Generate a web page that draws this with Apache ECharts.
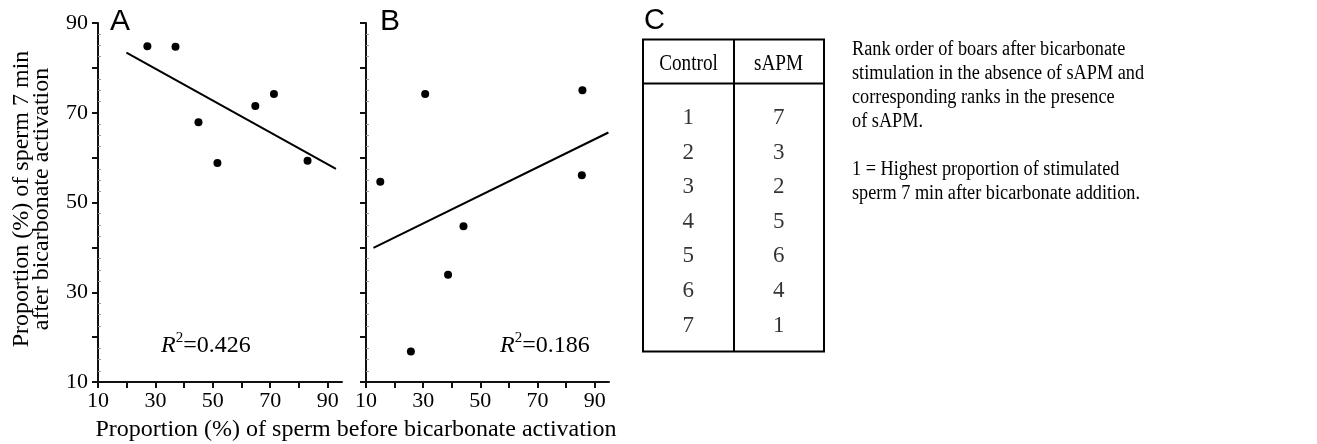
<!DOCTYPE html>
<html>
<head>
<meta charset="utf-8">
<script src="https://cdn.jsdelivr.net/npm/echarts@6/dist/echarts.min.js"></script>
<style>
html, body { margin: 0; padding: 0; background: #fff; }
#chart { width: 1317px; height: 444px; }
</style>
</head>
<body>
<div id="chart"></div>
<script>
// data
var pointsA = [[27.2, 84.8], [37, 84.7], [45, 67.9], [51.6, 58.8], [64.8, 71.5], [71.3, 74.2], [83, 59.3]];
var pointsB = [[15, 54.6], [30.7, 74.2], [25.7, 16.8], [38.7, 33.9], [44.1, 44.7], [85.7, 75], [85.5, 56.1]];
var fitA = [[19.9, 83.4], [92.9, 57.5]];
var fitB = [[12.6, 39.9], [94.8, 65.6]];
var r2Values = ['0.426', '0.186'];
var xTicks = [10, 20, 30, 40, 50, 60, 70, 80, 90];
var xTickLabels = [10, 30, 50, 70, 90];
var yTickLabels = [10, 30, 50, 70, 90];
var tableHeader = ['Control', 'sAPM'];
var controlRank = [1, 2, 3, 4, 5, 6, 7];
var sapmRank = [7, 3, 2, 5, 6, 4, 1];
var noteLines = [
    'Rank order of boars after bicarbonate',
    'stimulation in the absence of sAPM and',
    'corresponding ranks in the presence',
    'of sAPM.',
    '',
    '1 = Highest proportion of stimulated',
    'sperm 7 min after bicarbonate addition.'
];

var serif = '"Liberation Serif", "Times New Roman", serif';
var sans = '"Liberation Sans", Arial, sans-serif';
var ink = '#111';

function makeX(idx) {
    return {
        type: 'value',
        gridIndex: idx,
        min: 10,
        max: 95,
        axisLine: { show: true, onZero: false, lineStyle: { color: ink, width: 2 } },
        axisTick: { show: true, customValues: xTicks, length: 6, lineStyle: { color: ink, width: 2 } },
        axisLabel: { customValues: xTickLabels, color: '#000', fontFamily: serif, fontSize: 22, margin: 8 },
        splitLine: { show: false }
    };
}

function makeY(idx, showLabels) {
    return {
        type: 'value',
        gridIndex: idx,
        min: 10,
        max: 90,
        interval: 10,
        axisLine: { show: true, onZero: false, lineStyle: { color: ink, width: 2 } },
        axisTick: { show: true, length: 6, lineStyle: { color: ink, width: 2 } },
        axisLabel: { show: showLabels, customValues: yTickLabels, color: '#000', fontFamily: serif, fontSize: 22, margin: 10 },
        splitLine: { show: false }
    };
}

// faint minor ticks pointing into the plot (second left axis, ticks inside, major ticks invisible)
function makeMinorY(idx) {
    return {
        type: 'value',
        gridIndex: idx,
        position: 'left',
        min: 10,
        max: 90,
        interval: 10,
        axisLine: { show: false },
        axisTick: { show: true, inside: true, length: 1, lineStyle: { opacity: 0 } },
        minorTick: { show: true, splitNumber: 4, length: 3, lineStyle: { color: '#999', width: 1 } },
        axisLabel: { show: false },
        splitLine: { show: false }
    };
}

var tableData = [];
controlRank.forEach(function(v, i) {
    tableData.push([0, i + 1, v]);
    tableData.push([1, i + 1, sapmRank[i]]);
});

var chart = echarts.init(document.getElementById('chart'));

var graphics = [
    { type: 'text', x: 110, y: 22, style: { text: 'A', font: '30px ' + sans, fill: '#000', verticalAlign: 'middle' } },
    { type: 'text', x: 380, y: 22, style: { text: 'B', font: '30px ' + sans, fill: '#000', verticalAlign: 'middle' } },
    { type: 'text', x: 644, y: 21, style: { text: 'C', font: '29px ' + sans, fill: '#000', verticalAlign: 'middle' } },
    {
        type: 'text', x: 32, y: 199, rotation: Math.PI / 2,
        style: {
            text: 'Proportion (%) of sperm 7 min\nafter bicarbonate activation',
            font: '24px ' + serif, fill: '#000', align: 'center', verticalAlign: 'middle', lineHeight: 20
        }
    },
    {
        type: 'text', x: 356, y: 430,
        style: {
            text: 'Proportion (%) of sperm before bicarbonate activation',
            font: '24px ' + serif, fill: '#000', align: 'center', verticalAlign: 'middle'
        }
    },
    // table frame
    { type: 'rect', shape: { x: 643, y: 39.5, width: 181, height: 312 }, style: { fill: 'none', stroke: '#000', lineWidth: 2 } },
    { type: 'line', shape: { x1: 734, y1: 39.5, x2: 734, y2: 351.5 }, style: { stroke: '#000', lineWidth: 2 } },
    { type: 'line', shape: { x1: 643, y1: 83.5, x2: 824, y2: 83.5 }, style: { stroke: '#000', lineWidth: 2 } },
    {
        type: 'text', x: 852, y: 37.5, scaleX: 0.913,
        style: { text: noteLines.join('\n'), font: '20px ' + serif, fill: '#000', lineHeight: 24 }
    }
];

// table header, condensed like the source
[688.5, 778.5].forEach(function(cx, i) {
    graphics.push({
        type: 'text', x: cx, y: 64, scaleX: 0.8,
        style: { text: tableHeader[i], font: '24px ' + serif, fill: '#000', align: 'center', verticalAlign: 'middle' }
    });
});

[[161, r2Values[0]], [500, r2Values[1]]].forEach(function(r) {
    graphics.push({
        type: 'text', x: r[0], y: 346,
        style: {
            text: '{i|R}{s|2}{n|=' + r[1] + '}',
            verticalAlign: 'middle',
            rich: {
                i: { fontFamily: serif, fontStyle: 'italic', fontSize: 24, fill: '#000' },
                s: { fontFamily: serif, fontSize: 15, fill: '#000', verticalAlign: 'top', padding: [-3, 0, 0, 0] },
                n: { fontFamily: serif, fontSize: 24, fill: '#000' }
            }
        }
    });
});

var option = {
    backgroundColor: '#fff',
    animation: false,
    grid: [
        { left: 98, top: 23, width: 244, height: 359 },
        { left: 366, top: 23, width: 243, height: 359 },
        { left: 643, top: 83.5, width: 181, height: 268 }
    ],
    xAxis: [
        makeX(0),
        makeX(1),
        { type: 'category', gridIndex: 2, data: tableHeader, show: false }
    ],
    yAxis: [
        makeY(0, true),
        makeY(1, false),
        makeMinorY(0),
        makeMinorY(1),
        { type: 'value', gridIndex: 2, min: 0, max: 7.75, inverse: true, show: false }
    ],
    series: [
        {
            type: 'scatter', xAxisIndex: 0, yAxisIndex: 0, data: pointsA,
            symbolSize: 8, itemStyle: { color: '#000', opacity: 1 }
        },
        {
            type: 'line', xAxisIndex: 0, yAxisIndex: 0, data: fitA,
            showSymbol: false, lineStyle: { color: '#000', width: 2 }
        },
        {
            type: 'scatter', xAxisIndex: 1, yAxisIndex: 1, data: pointsB,
            symbolSize: 8, itemStyle: { color: '#000', opacity: 1 }
        },
        {
            type: 'line', xAxisIndex: 1, yAxisIndex: 1, data: fitB,
            showSymbol: false, lineStyle: { color: '#000', width: 2 }
        },
        {
            type: 'scatter', xAxisIndex: 2, yAxisIndex: 4, data: tableData,
            symbolSize: 0,
            label: {
                show: true, position: 'inside', color: '#000', fontFamily: serif, fontSize: 23,
                formatter: function(p) { return p.value[2]; }
            }
        }
    ],
    graphic: graphics
};

chart.setOption(option);
</script>
</body>
</html>
